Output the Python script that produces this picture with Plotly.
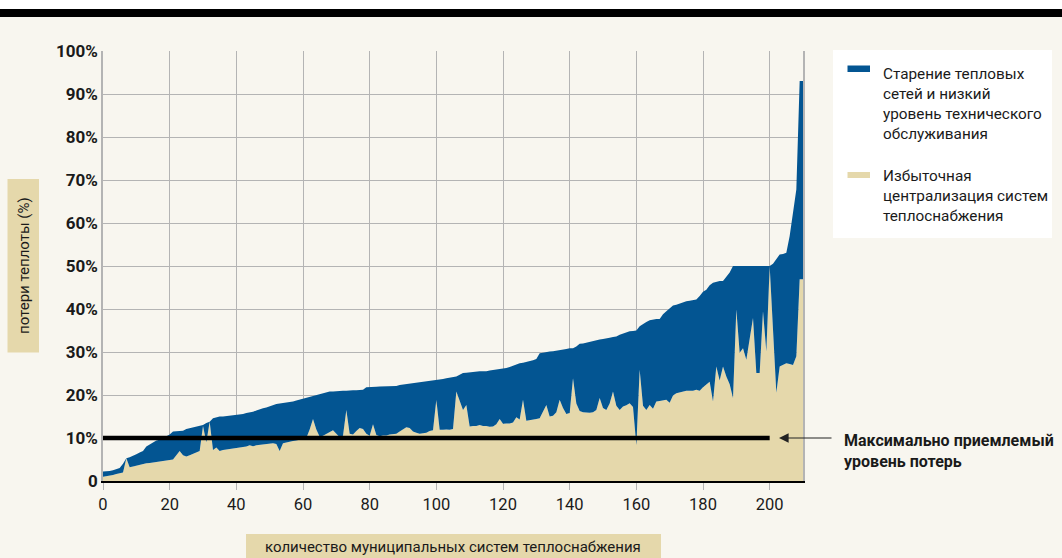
import plotly.graph_objects as go

# ---- data ----
x_systems = list(range(0, 211))

total_losses = [
    2.2, 2.2, 2.3, 2.5, 2.8, 3.0, 4.0, 5.3, 5.5, 5.8,
    6.2, 6.6, 7.0, 8.0, 8.5, 9.0, 9.4, 9.6, 10.0, 10.3,
    10.8, 11.5, 11.6, 11.7, 11.7, 12.1, 12.3, 12.5, 12.7, 12.8,
    13.0, 13.5, 13.8, 14.6, 14.8, 15.0, 15.0, 15.1, 15.2, 15.2,
    15.3, 15.5, 15.6, 15.8, 15.9, 16.1, 16.4, 16.7, 16.9, 17.1,
    17.4, 17.7, 17.9, 18.0, 18.1, 18.3, 18.4, 18.5, 18.7, 18.9,
    19.1, 19.3, 19.5, 19.8, 20.0, 20.2, 20.4, 20.6, 20.8, 20.8,
    20.9, 21.0, 21.0, 21.0, 21.1, 21.1, 21.1, 21.2, 21.2, 21.8,
    21.8, 21.9, 21.9, 22.0, 22.0, 22.0, 22.1, 22.1, 22.1, 22.3,
    22.4, 22.5, 22.6, 22.7, 22.8, 22.9, 23.0, 23.1, 23.2, 23.3,
    23.4, 23.6, 23.7, 23.9, 24.0, 24.2, 24.3, 24.7, 25.1, 25.2,
    25.3, 25.4, 25.4, 25.5, 25.5, 25.5, 25.7, 25.8, 25.9, 26.0,
    26.1, 26.3, 26.5, 26.8, 27.1, 27.4, 27.5, 27.7, 27.8, 28.1,
    28.4, 29.7, 29.8, 30.0, 30.1, 30.2, 30.3, 30.4, 30.5, 30.7,
    30.9, 30.9, 31.3, 31.9, 32.0, 32.2, 32.3, 32.5, 32.7, 32.9,
    33.0, 33.1, 33.3, 33.5, 33.6, 34.0, 34.3, 34.6, 34.8, 34.9,
    35.0, 36.0, 36.6, 37.0, 37.4, 37.6, 37.7, 37.7, 38.8, 39.5,
    40.2, 40.8, 41.0, 41.3, 41.6, 41.8, 41.9, 42.0, 42.2, 43.0,
    44.0, 44.5, 45.5, 46.1, 46.3, 46.5, 46.5, 47.5, 48.5, 50.0,
    50.0, 50.0, 50.0, 50.0, 50.0, 50.0, 50.0, 50.0, 50.0, 50.0,
    50.0, 50.5, 51.5, 52.7, 52.8, 53.1, 57.0, 62.0, 67.8, 93.0,
    93.0,
]

centralization = [
    1.0, 1.1, 1.2, 1.4, 1.6, 1.8, 2.0, 5.3, 3.2, 3.4,
    3.6, 3.8, 4.0, 4.1, 4.2, 4.3, 4.5, 4.6, 4.7, 4.7,
    4.9, 5.0, 6.0, 7.0, 6.0, 5.7, 6.0, 6.3, 6.6, 7.0,
    12.8, 9.0, 13.8, 7.2, 7.8, 7.0, 7.2, 7.3, 7.4, 7.5,
    7.6, 7.7, 7.9, 8.0, 8.3, 8.1, 8.3, 8.4, 8.5, 8.6,
    8.8, 8.8, 8.6, 7.0, 8.8, 9.0, 9.1, 9.3, 9.4, 9.6,
    9.8, 10.0, 12.0, 14.4, 12.0, 10.3, 10.5, 11.0, 11.5, 11.8,
    11.0, 10.2, 10.5, 16.5, 11.0, 10.8, 11.6, 12.3, 12.1, 11.0,
    10.5, 13.2, 10.7, 10.4, 10.6, 10.6, 10.8, 10.9, 11.0, 11.5,
    12.0, 12.5, 12.3, 11.5, 11.2, 11.0, 11.1, 11.2, 11.6, 11.8,
    18.9, 11.9, 11.9, 12.0, 11.9, 12.1, 20.8, 18.5, 16.5, 17.7,
    12.7, 12.8, 12.8, 13.0, 12.8, 12.8, 12.6, 12.7, 13.2, 14.4,
    13.3, 13.4, 13.4, 13.6, 14.8, 14.3, 18.9, 14.0, 14.1, 14.2,
    14.4, 14.6, 16.0, 17.7, 15.0, 15.2, 16.0, 18.9, 17.0, 15.6,
    15.8, 23.9, 18.0, 16.3, 16.0, 15.9, 15.9, 16.0, 16.5, 19.3,
    17.0, 16.5, 18.0, 20.8, 17.5, 16.5, 17.3, 17.6, 18.1, 17.2,
    8.4, 25.9, 17.5, 16.5, 17.7, 16.8, 18.5, 18.6, 18.7, 18.9,
    18.2, 19.9, 20.4, 20.6, 20.8, 21.0, 21.0, 21.0, 21.2, 21.0,
    21.8, 22.5, 23.1, 18.5, 26.6, 23.4, 26.6, 24.3, 22.5, 19.3,
    39.9, 29.8, 30.9, 28.2, 33.0, 37.9, 25.1, 25.1, 39.5, 30.1,
    50.0, 35.0, 20.5, 26.6, 27.0, 27.4, 27.2, 27.0, 29.0, 46.9,
    46.9,
]

threshold_x = [0, 200]
threshold_y = [10, 10]

y_tickvals = [0, 10, 20, 30, 40, 50, 60, 70, 80, 90, 100]
y_ticktext = ["0", "10%", "20%", "30%", "40%", "50%", "60%", "70%", "80%", "90%", "100%"]
x_tickvals = [0, 20, 40, 60, 80, 100, 120, 140, 160, 180, 200]

series_names = [
    "Старение тепловых<br>сетей и низкий<br>уровень технического<br>обслуживания",
    "Избыточная<br>централизация систем<br>теплоснабжения",
]
y_title = "потери теплоты (%)"
x_title = "количество муниципальных систем теплоснабжения"
threshold_label = "<b>Максимально приемлемый<br>уровень потерь</b>"

# ---- styling ----
BLUE = "#035592"
BEIGE = "#e5d8ab"
CREAM = "#f8f6ef"
GRID = "#b4b4b4"
FONT = "Roboto, Liberation Sans, sans-serif"
TXT = "#1a1a1a"

W, H = 1062, 558
L, R, T, B = 103, 259, 51, 77
PW, PH = W - L - R, H - T - B


def px(xp):
    return (xp - L) / PW


def py(yp):
    return (H - B - yp) / PH


fig = go.Figure()
fig.add_trace(go.Scatter(
    x=x_systems, y=centralization, mode="lines", line=dict(width=0, color=BEIGE),
    fill="tozeroy", fillcolor=BEIGE, name="Избыточная централизация", showlegend=False,
    hoverinfo="skip"))
fig.add_trace(go.Scatter(
    x=x_systems, y=total_losses, mode="lines", line=dict(width=0, color=BLUE),
    fill="tonexty", fillcolor=BLUE, name="Старение тепловых сетей", showlegend=False,
    hoverinfo="skip"))
fig.add_trace(go.Scatter(
    x=threshold_x, y=threshold_y, mode="lines", line=dict(width=4.5, color="#000000"),
    showlegend=False, hoverinfo="skip"))

shapes = [
    # white strip and black bar at the top
    dict(type="rect", xref="paper", yref="paper", x0=px(0), x1=px(W), y0=py(9), y1=py(0),
         fillcolor="#ffffff", line=dict(width=0), layer="below"),
    dict(type="rect", xref="paper", yref="paper", x0=px(0), x1=px(W), y0=py(17), y1=py(9),
         fillcolor="#000000", line=dict(width=0), layer="below"),
    # y title box
    dict(type="rect", xref="paper", yref="paper", x0=px(7.5), x1=px(39), y0=py(352.5), y1=py(179),
         fillcolor=BEIGE, line=dict(width=0), layer="below"),
    # x title box
    dict(type="rect", xref="paper", yref="paper", x0=px(246), x1=px(661), y0=py(560), y1=py(534),
         fillcolor=BEIGE, line=dict(width=0), layer="below"),
    # legend box
    dict(type="rect", xref="paper", yref="paper", x0=px(833), x1=px(1052), y0=py(238), y1=py(50),
         fillcolor="#ffffff", line=dict(width=0), layer="below"),
    dict(type="rect", xref="paper", yref="paper", x0=px(847.5), x1=px(870), y0=py(72), y1=py(65.5),
         fillcolor=BLUE, line=dict(width=0)),
    dict(type="rect", xref="paper", yref="paper", x0=px(847.5), x1=px(870), y0=py(178), y1=py(172),
         fillcolor=BEIGE, line=dict(width=0)),
]

annotations = [
    dict(text=y_title, xref="paper", yref="paper", x=px(24), y=py(266), textangle=-90,
         xanchor="center", yanchor="middle", showarrow=False,
         font=dict(family=FONT, size=15, color=TXT)),
    dict(text=x_title, xref="paper", yref="paper", x=px(453), y=py(547),
         xanchor="center", yanchor="middle", showarrow=False,
         font=dict(family=FONT, size=15, color=TXT)),
    dict(text=series_names[0], xref="paper", yref="paper", x=px(881), y=py(103.5),
         xanchor="left", yanchor="middle", align="left", showarrow=False,
         font=dict(family=FONT, size=15.3, color=TXT)),
    dict(text=series_names[1], xref="paper", yref="paper", x=px(881), y=py(196),
         xanchor="left", yanchor="middle", align="left", showarrow=False,
         font=dict(family=FONT, size=15.3, color=TXT)),
    dict(text=threshold_label, xref="paper", yref="paper", x=px(842), y=py(450.5),
         xanchor="left", yanchor="middle", align="left", showarrow=False,
         font=dict(family=FONT, size=16, color=TXT)),
    dict(text="", xref="x", yref="y", x=202.8, y=threshold_y[0], ax=54, ay=0,
         showarrow=True, arrowhead=2, arrowsize=1.6, arrowwidth=1.2, arrowcolor="#222222"),
]

fig.update_layout(
    width=W, height=H, autosize=False,
    margin=dict(l=L, r=R, t=T, b=B),
    paper_bgcolor=CREAM, plot_bgcolor=CREAM,
    shapes=shapes, annotations=annotations,
    showlegend=False,
    xaxis=dict(range=[0, 210], tickvals=x_tickvals, showgrid=True, gridcolor=GRID, gridwidth=1.3,
               zeroline=False, showline=True, linecolor="#000000", linewidth=1.5,
               ticks="outside", ticklen=7, tickcolor=GRID, tickwidth=1,
               tickfont=dict(family=FONT, size=16.5, color=TXT), layer="below traces"),
    yaxis=dict(range=[0, 100], tickvals=y_tickvals, ticktext=y_ticktext, showgrid=True,
               gridcolor=GRID, gridwidth=1.3, zeroline=False, showline=True, linecolor=GRID,
               linewidth=1.5, mirror=True, ticks="",
               tickfont=dict(family=FONT, size=17, color=TXT, weight="bold"),
               layer="below traces"),
)

fig.write_html("out.html", config={"displayModeBar": False},
               post_script="document.body.style.margin='0px';")
